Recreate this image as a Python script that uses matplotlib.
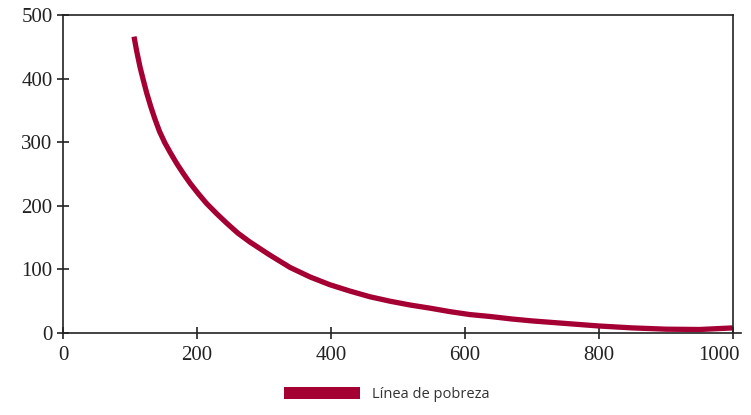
import matplotlib
matplotlib.use("Agg")
import matplotlib.pyplot as plt
import matplotlib.transforms as mtransforms
from matplotlib.patches import Patch

# values
income = [106, 110, 115, 120, 125, 131, 137, 144, 152, 161, 170, 180,
          190, 202, 214, 229, 244, 261, 279, 308, 339, 369, 398, 428,
          458, 488, 518, 548, 578, 607, 637, 670, 700, 750, 800, 850,
          900, 950, 1000]
poverty = [466, 443, 418, 397, 377, 356, 337, 317, 299, 282, 266, 250,
           235, 219, 204, 188, 173, 157, 143, 123, 103, 88, 76, 66,
           57, 50, 44, 39, 33.5, 29, 26, 22, 19, 15, 11, 8,
           6, 5.5, 8]
x_ticks = [0, 200, 400, 600, 800, 1000]
y_ticks = [0, 100, 200, 300, 400, 500]
series_label = "Línea de pobreza"

line_color = "#a50034"
axis_color = "#222222"

fig = plt.figure(figsize=(7.51, 4.15), dpi=100)
ax = fig.add_axes([0.0839, 0.1976, 0.8921, 0.7663])

ax.plot(income, poverty, color=line_color, lw=3.8, solid_capstyle="butt",
        solid_joinstyle="round", clip_on=False)

ax.set_xlim(0, 1000)
ax.set_ylim(0, 500)
ax.set_xticks(x_ticks)
ax.set_yticks(y_ticks)

for side in ["left", "right", "top", "bottom"]:
    ax.spines[side].set_color(axis_color)
    ax.spines[side].set_linewidth(1.2)
ax.spines["bottom"].set_bounds(0, 1012)

ax.tick_params(axis="both", direction="inout", length=9, width=1.2,
               color=axis_color, labelcolor="#222222", labelsize=15)
ax.tick_params(axis="x", pad=5)
ax.tick_params(axis="y", pad=3)
for lbl in ax.get_xticklabels() + ax.get_yticklabels():
    lbl.set_family("Liberation Serif")

# the last x label sits a little left of its tick so it stays inside
last = ax.get_xticklabels()[-1]
shift = mtransforms.ScaledTranslation(-10 / 72, 0, fig.dpi_scale_trans)
last.set_transform(last.get_transform() + shift)

handle = Patch(facecolor=line_color, edgecolor="none", label=series_label)
fig.legend(handles=[handle], loc="lower center", bbox_to_anchor=(0.515, 0.0),
           frameon=False, handlelength=5.2, handleheight=0.9,
           prop={"family": "Open Sans", "size": 10.5}, labelcolor="#333333")

fig.savefig("out.png", dpi=100)
